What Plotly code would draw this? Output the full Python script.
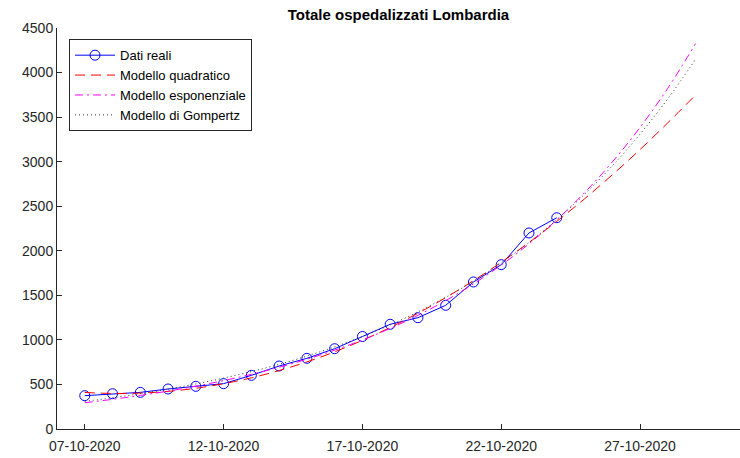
import plotly.graph_objects as go

# Observed data (Dati reali)
data_dates = ["2020-10-07", "2020-10-08", "2020-10-09", "2020-10-10", "2020-10-11",
              "2020-10-12", "2020-10-13", "2020-10-14", "2020-10-15", "2020-10-16",
              "2020-10-17", "2020-10-18", "2020-10-19", "2020-10-20", "2020-10-21",
              "2020-10-22", "2020-10-23", "2020-10-24"]
data_values = [374, 396, 411, 449, 479, 509, 602, 707, 793, 901,
               1038, 1175, 1249, 1388, 1650, 1844, 2200, 2371]

# Model curves, 07-10 .. 29-10
model_dates = ["2020-10-%02d" % d for d in range(7, 30)]
quad_values = [410, 399, 403, 422, 457, 508, 574, 656, 753, 866, 995, 1139,
               1299, 1474, 1665, 1871, 2093, 2330, 2583, 2852, 3136, 3436, 3748]
exp_values = [295, 333, 377, 425, 481, 543, 613, 693, 783, 885, 999, 1129,
              1275, 1441, 1628, 1839, 2078, 2347, 2652, 2996, 3385, 3824, 4325]
gomp_values = [310, 351, 396, 448, 506, 571, 644, 726, 818, 922, 1038, 1168,
               1314, 1477, 1660, 1864, 2093, 2349, 2634, 2953, 3309, 3706, 4149]

y_ticks = [0, 500, 1000, 1500, 2000, 2500, 3000, 3500, 4000, 4500]

FONT = "Liberation Sans, Arial, sans-serif"
AX = "#262626"

fig = go.Figure()
fig.add_trace(go.Scatter(
    x=data_dates, y=data_values, name="Dati reali", mode="lines+markers",
    line=dict(color="#0000ff", width=1),
    marker=dict(symbol="circle-open", size=10, color="#0000ff", line=dict(width=1)),
))
fig.add_trace(go.Scatter(
    x=model_dates, y=quad_values, name="Modello quadratico", mode="lines",
    line=dict(color="#ff0000", width=1, dash="10px,6px", shape="spline"),
))
fig.add_trace(go.Scatter(
    x=model_dates, y=exp_values, name="Modello esponenziale", mode="lines",
    line=dict(color="#ff00ff", width=1, dash="8px,4px,2px,4px", shape="spline"),
))
fig.add_trace(go.Scatter(
    x=model_dates, y=gomp_values, name="Modello di Gompertz", mode="lines",
    line=dict(color="#333333", width=1, dash="1px,3px", shape="spline"),
))

fig.update_layout(
    width=740, height=458,
    margin=dict(l=57, r=0, t=28, b=29),
    paper_bgcolor="white", plot_bgcolor="white",
    font=dict(family=FONT, size=14, color=AX),
    title=dict(text="<b>Totale ospedalizzati Lombardia</b>", x=0.5, xref="paper",
               y=1 - 15 / 458, yref="container", yanchor="middle", xanchor="center",
               font=dict(size=15, color="#000000", family=FONT)),
    showlegend=True,
    legend=dict(x=0.0176, y=0.972, xanchor="left", yanchor="top",
                bgcolor="white", bordercolor=AX, borderwidth=1,
                font=dict(size=13, color="#000000"), itemwidth=40,
                tracegroupgap=0),
    xaxis=dict(type="date", range=["2020-10-06", "2020-10-30 14:24"],
               tick0="2020-10-07", dtick=5 * 86400000, tickformat="%d-%m-%Y",
               ticks="inside", ticklen=5, tickcolor=AX, showline=True, linecolor=AX,
               linewidth=1, showgrid=False, zeroline=False, automargin=False,
               ticklabelstandoff=4, tickfont=dict(size=14, color=AX)),
    yaxis=dict(range=[0, 4500], tickvals=y_ticks, ticks="inside", ticklen=5,
               tickcolor=AX, showline=True, linecolor=AX, linewidth=1,
               showgrid=False, zeroline=False, automargin=False,
               tickfont=dict(size=14, color=AX)),
)

fig.write_html("out.html", config={"displayModeBar": False},
               post_script="document.body.style.margin='0';document.body.style.padding='0';")
